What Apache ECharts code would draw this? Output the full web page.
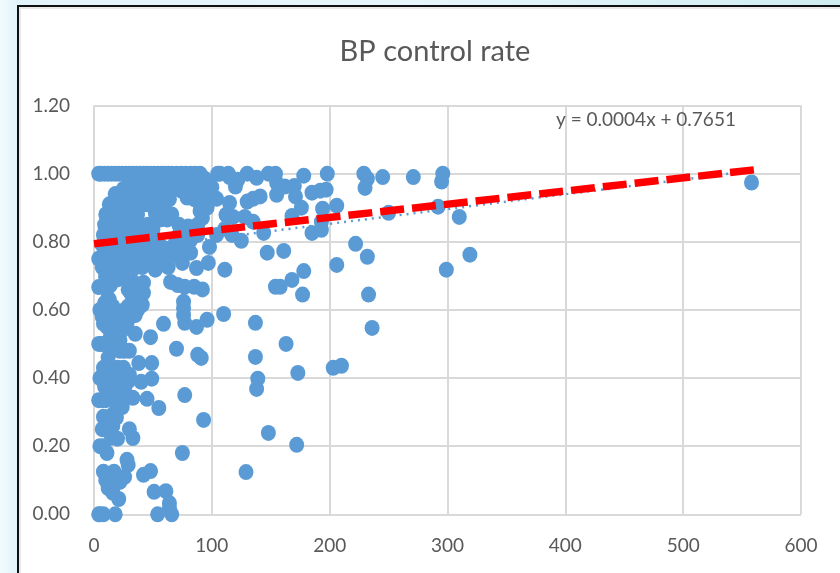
<!DOCTYPE html>
<html>
<head>
<meta charset="utf-8">
<style>
  html, body { margin: 0; padding: 0; }
  body { background: linear-gradient(90deg, #f2fbfe 0, #e2f4fa 17px, #e6f6fb 50%, #d0eef2 100%); }
  #chart { width: 840px; height: 573px; }
</style>
<script src="https://cdn.jsdelivr.net/npm/echarts@6/dist/echarts.min.js"></script>
</head>
<body>
<div id="chart"></div>
<script>
// values, [x, rate]
const topRow = [[4,1],[6,1],[9,1],[12,1],[15,1],[18,1],[21,1],[24,1],[27,1],[30,1],[33,1],[36,1],[39,1],[42,1],[45,1],[48,1],[51,1],[54,1],[57,1],[60,1],[63,1],[66,1],[70,1],[74,1],[78,1],[82,1],[86,1],[90,1],[105,1],[107,1],[114,1],[130,1],[148,1],[154,1],[178,0.994],[198,1],[229,1],[245,0.99],[271,0.99],[296,1]]
const denseBand = [
  [30,0.97],[38,0.97],[46,0.97],[54,0.97],[60,0.97],[68,0.98],[76,0.98],[84,0.97],[90,0.97],[96,0.97],[100,0.96],
  [25,0.955],[34,0.985],[42,0.985],[50,0.985],[58,0.985],[72,0.965],[80,0.96],[88,0.985],[94,0.985],
  [18,0.94],[26,0.94],[34,0.94],[42,0.94],[50,0.94],[56,0.94],[62,0.95],[74,0.95],[79,0.93],[88,0.94],[94,0.94],[100,0.93],
  [22,0.925],[30,0.955],[38,0.955],[46,0.955],[54,0.955],[66,0.965],[84,0.95],[92,0.955],
  [13,0.91],[20,0.91],[28,0.91],[36,0.91],[44,0.91],[52,0.91],[60,0.91],[90,0.91],[96,0.9],
  [16,0.895],[24,0.895],[32,0.925],[40,0.925],[48,0.925],[56,0.925],[64,0.925],[85,0.925],[92,0.925],
  [10,0.88],[16,0.88],[24,0.88],[32,0.88],[37,0.88],[52,0.885],[60,0.88],[66,0.88],[92,0.87],
  [14,0.865],[20,0.865],[28,0.865],[36,0.865],[56,0.865],[62,0.865],[90,0.89],
  [9,0.85],[14,0.85],[22,0.85],[30,0.85],[38,0.85],[46,0.85],[72,0.85],[80,0.845],[88,0.85],
  [12,0.835],[18,0.835],[26,0.835],[34,0.835],[42,0.835],[50,0.835],[76,0.835],[84,0.835],
  [8,0.82],[14,0.82],[22,0.82],[30,0.82],[38,0.82],[46,0.82],[72,0.82],[78,0.82],[88,0.82],
  [10,0.805],[18,0.805],[26,0.805],[34,0.805],[42,0.805],[50,0.805],[70,0.805],[82,0.805],
  [7,0.79],[14,0.79],[22,0.79],[30,0.79],[38,0.79],[46,0.79],[56,0.79],[68,0.79],[98,0.785],
  [12,0.77],[18,0.77],[26,0.77],[34,0.77],[42,0.77],[50,0.77],[60,0.78],[76,0.785]
]
const upperScatter = [
  [232,0.985],[230,0.958],[295,0.977],[185,0.944],[192,0.95],[197,0.953],[206,0.906],[194,0.897],[193,0.859],[193,0.835],
  [185,0.826],[168,0.876],[176,0.9],[170,0.964],[171,0.933],[162,0.962],[155,0.938],[155,0.973],[138,0.988],[120,0.962],
  [122,0.982],[115,0.99],[130,0.918],[135,0.926],[141,0.933],[115,0.914],[112,0.879],[118,0.873],[128,0.873],[135,0.859],
  [111,0.838],[117,0.82],[125,0.803],[144,0.826],[104,0.82],[104,0.926],[250,0.885],[292,0.903],[310,0.873],[558,0.974]
]
const midScatter = [
  [147,0.768],[161,0.773],[97,0.738],[111,0.718],[178,0.714],[168,0.688],[158,0.668],[154,0.668],[177,0.645],[206,0.732],
  [222,0.794],[232,0.756],[233,0.645],[236,0.547],[319,0.762],[299,0.718],
  [4,0.75],[7,0.75],[11,0.75],[15,0.75],[20,0.75],[25,0.75],[30,0.75],[35,0.75],[40,0.75],[45,0.75],[50,0.75],[55,0.75],[60,0.76],[65,0.76],[70,0.76],
  [7,0.725],[10,0.72],[15,0.72],[20,0.72],[25,0.7],[10,0.7],[15,0.69],[20,0.69],[30,0.73],[35,0.725],
  [41,0.726],[52,0.718],[63,0.726],[75,0.738],[87,0.723],[82,0.768],[68,0.77],
  [4,0.667],[8,0.667],[14,0.673],[12,0.635],[10,0.695],[29,0.66],[33,0.683],[42,0.68],[42,0.65],[41,0.615],[35,0.585],[31,0.615],[31,0.65],[36,0.64],[36,0.665],[37,0.62],[25,0.57],
  [65,0.682],[71,0.673],[77,0.668],[85,0.668],[92,0.66],[76,0.624],[76,0.605],[76,0.585],[77,0.562],[87,0.55],[96,0.571],[110,0.588],[59,0.559]
]
const lowerLeft = [
  [5,0.6],[7,0.58],[8,0.56],[11,0.6],[11,0.55],[13,0.63],[14,0.58],[16,0.61],[17,0.56],[20,0.58],[24,0.58],[26,0.6],[29,0.61],[30,0.58],[37,0.6],[31,0.58],[9,0.62],[14,0.6],[20,0.56],[28,0.56],
  [4,0.5],[6,0.5],[8,0.5],[11,0.5],[14,0.5],[17,0.5],[20,0.5],[22,0.48],[26,0.48],[30,0.48],[18,0.53],[20,0.55],[24,0.54],[27,0.55],[35,0.53],[48,0.52],[14,0.525],[22,0.51],
  [5,0.4],[8,0.43],[9,0.375],[12,0.46],[12,0.41],[13,0.37],[15,0.34],[17,0.42],[17,0.39],[18,0.36],[20,0.43],[21,0.4],[22,0.375],[22,0.34],[25,0.43],[26,0.4],[26,0.37],[30,0.41],[24,0.35],[9,0.41],[14,0.39],[29,0.39],[18,0.405],[14,0.43],
  [4,0.335],[7,0.335],[10,0.335],[33,0.342],[24,0.315],[38,0.444],[49,0.444],[49,0.398],[40,0.389],[45,0.339],[55,0.312],
  [8,0.286],[15,0.29],[18,0.3],[19,0.284],[11,0.27],[7,0.25],[12,0.245],[15,0.225],[16,0.26],[20,0.222],[33,0.224],[30,0.25],[5,0.2],[8,0.2],[11,0.18],
  [8,0.125],[17,0.125],[28,0.16],[29,0.145],[26,0.11],[22,0.095],[10,0.1],[12,0.077],[16,0.063],[21,0.045],
  [42,0.116],[48,0.127],[51,0.066],[61,0.068],[64,0.033],[64,0.02],[66,0],[54,0],[18,0],[8,0],[5,0],[4,0]
]
const lowerRight = [
  [137,0.562],[163,0.5],[70,0.486],[88,0.468],[91,0.459],[137,0.462],[173,0.415],[139,0.398],[138,0.368],[203,0.43],[210,0.436],
  [77,0.35],[93,0.277],[148,0.239],[172,0.204],[129,0.124],[75,0.18]
]
const trendDotted = [[0,0.766],[558,1.008]]
const trendRed = [[0,0.794],[560,1.011]]
const xTicks = { min: 0, max: 600, step: 100 }
const yTicks = { min: 0, max: 1.2, step: 0.2 }

const labelColor = '#595959'
const gridColor = '#d9d9d9'
const dotColor = '#5b9bd5'
const fontName = 'Lato'

const chart = echarts.init(document.getElementById('chart'))

chart.setOption({
  animation: false,
  title: {
    text: 'BP control rate',
    left: 430,
    top: 32,
    textAlign: 'center',
    textStyle: { color: labelColor, fontFamily: fontName, fontSize: 29, fontWeight: 'normal' }
  },
  grid: { left: 94, right: 39, top: 105.5, bottom: 58.7 },
  xAxis: {
    type: 'value',
    min: xTicks.min,
    max: xTicks.max,
    interval: xTicks.step,
    axisLine: { show: false },
    axisTick: { show: false },
    axisLabel: { color: labelColor, fontFamily: fontName, fontSize: 19, margin: 22 },
    splitLine: { show: true, lineStyle: { color: gridColor, width: 2 } }
  },
  yAxis: {
    type: 'value',
    min: yTicks.min,
    max: yTicks.max,
    interval: yTicks.step,
    axisLine: { show: false },
    axisTick: { show: false },
    axisLabel: {
      color: labelColor,
      fontFamily: fontName,
      fontSize: 19,
      margin: 24,
      formatter: v => v.toFixed(2)
    },
    splitLine: { show: true, lineStyle: { color: gridColor, width: 2 } }
  },
  graphic: [
    {
      type: 'rect',
      z: -10,
      silent: true,
      shape: { x: 18, y: 6, width: 900, height: 700 },
      style: { fill: '#fff', stroke: '#111', lineWidth: 2 }
    },
    {
      type: 'rect',
      z: -9,
      silent: true,
      shape: { x: 20, y: 8, width: 900, height: 700 },
      style: { fill: 'none', stroke: '#e4e4e4', lineWidth: 1.5 }
    },
    {
      type: 'text',
      z: 20,
      left: 556,
      top: 110,
      style: { text: 'y = 0.0004x + 0.7651', fill: labelColor, font: '19px Lato' }
    }
  ],
  series: [
    {
      type: 'scatter',
      symbol: 'circle',
      symbolSize: [15, 16],
      itemStyle: { color: dotColor, opacity: 1 },
      data: [...topRow, ...denseBand, ...upperScatter, ...midScatter, ...lowerLeft, ...lowerRight]
    },
    {
      type: 'line',
      showSymbol: false,
      z: 5,
      lineStyle: { color: dotColor, width: 2.5, type: [2, 5] },
      data: trendDotted
    },
    {
      type: 'line',
      showSymbol: false,
      z: 6,
      lineStyle: { color: '#ff0000', width: 7.5, type: [24, 8], cap: 'butt' },
      data: trendRed
    }
  ]
})
</script>
</body>
</html>
